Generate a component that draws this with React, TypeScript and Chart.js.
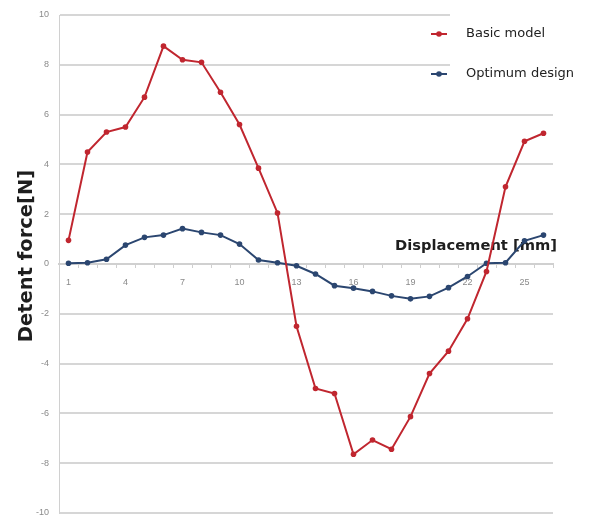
import React, { useEffect, useRef } from "react";
import { Chart, registerables } from "chart.js";

Chart.register(...registerables);

const categories = Array.from({ length: 26 }, (_, i) => String(i + 1));
const basicModel = [
  0.95, 4.5, 5.3, 5.5, 6.7, 8.75, 8.2, 8.1, 6.9, 5.6, 3.85, 2.05, -2.5, -5.0,
  -5.2, -7.64, -7.07, -7.44, -6.13, -4.4, -3.5, -2.2, -0.3, 3.1, 4.93, 5.25,
];
const optimumDesign = [
  0.03, 0.05, 0.19, 0.76, 1.07, 1.16, 1.42, 1.27, 1.16, 0.8, 0.16, 0.05, -0.07,
  -0.4, -0.87, -0.97, -1.1, -1.28, -1.4, -1.3, -0.95, -0.5, 0.03, 0.05, 0.93,
  1.16,
];
const seriesNames = ["Basic model", "Optimum design"];
const xTitle = "Displacement [mm]";
const yTitle = "Detent force[N]";

const RED = "#c0262f";
const BLUE = "#2b4670";

const overlayPlugin = {
  id: "overlay",
  beforeDatasetsDraw(chart: any) {
    const ctx = chart.ctx as CanvasRenderingContext2D;
    ctx.save();
    ctx.fillStyle = "#1e1e1e";
    ctx.font = "bold 14.7px 'DejaVu Sans', sans-serif";
    ctx.textAlign = "right";
    ctx.textBaseline = "middle";
    ctx.fillText(xTitle, 557, 246);
    ctx.restore();
  },
  afterDraw(chart: any) {
    const ctx = chart.ctx as CanvasRenderingContext2D;
    ctx.save();
    ctx.fillStyle = "#ffffff";
    ctx.fillRect(450, 5, 141, 88);
    const items = [
      { label: seriesNames[0], color: RED, y: 34 },
      { label: seriesNames[1], color: BLUE, y: 74 },
    ];
    items.forEach((it) => {
      ctx.strokeStyle = it.color;
      ctx.lineWidth = 2;
      ctx.beginPath();
      ctx.moveTo(431, it.y);
      ctx.lineTo(447, it.y);
      ctx.stroke();
      ctx.fillStyle = it.color;
      ctx.beginPath();
      ctx.arc(439, it.y, 2.8, 0, Math.PI * 2);
      ctx.fill();
      ctx.fillStyle = "#222";
      ctx.font = "13px 'DejaVu Sans', sans-serif";
      ctx.textAlign = "left";
      ctx.textBaseline = "middle";
      ctx.fillText(it.label, 466, it.y);
    });
    ctx.fillStyle = "#1e1e1e";
    ctx.translate(27, 256);
    ctx.rotate(-Math.PI / 2);
    ctx.textAlign = "center";
    ctx.textBaseline = "middle";
    ctx.font = "bold 19.5px 'DejaVu Sans', sans-serif";
    ctx.fillText(yTitle, 0, 0);
    ctx.restore();
  },
};

export default function App() {
  const ref = useRef<HTMLCanvasElement | null>(null);
  useEffect(() => {
    document.body.style.margin = "0";
    const canvas = ref.current!;
    const chart = new Chart(canvas, {
      type: "line",
      data: {
        labels: categories,
        datasets: [
          {
            label: seriesNames[0],
            data: basicModel,
            borderColor: RED,
            backgroundColor: RED,
            borderWidth: 2,
            pointRadius: 2.8,
            pointBackgroundColor: RED,
            pointBorderWidth: 0,
            tension: 0,
          },
          {
            label: seriesNames[1],
            data: optimumDesign,
            borderColor: BLUE,
            backgroundColor: BLUE,
            borderWidth: 2,
            pointRadius: 2.8,
            pointBackgroundColor: BLUE,
            pointBorderWidth: 0,
            tension: 0,
          },
        ],
      },
      options: {
        animation: false,
        responsive: false,
        maintainAspectRatio: false,
        layout: { padding: { left: 0, right: 38, top: 15, bottom: 6 } },
        plugins: {
          legend: { display: false },
          tooltip: { enabled: false },
        },
        scales: {
          x: {
            type: "category",
            position: { y: 0 } as any,
            offset: true,
            grid: {
              offset: true,
              drawOnChartArea: false,
              drawTicks: true,
              tickLength: 3,
              color: "#cfcfcf",
            },
            border: { display: true, color: "#d0d0d0", width: 2 },
            ticks: {
              autoSkip: false,
              maxRotation: 0,
              padding: 10,
              color: "#8a8a8a",
              font: { family: "'Liberation Sans', Arial, sans-serif", size: 9 },
              callback: (_v: any, i: number) => (i % 3 === 0 ? categories[i] : ""),
            },
          },
          y: {
            min: -10,
            max: 10,
            afterFit: (s: any) => {
              s.width = 59;
            },
            grid: {
              color: "#d6d6d6",
              lineWidth: 2,
              tickLength: 10,
              tickColor: "rgba(0,0,0,0)",
            },
            border: { display: true, color: "#d0d0d0", width: 1 },
            ticks: {
              stepSize: 2,
              padding: 0,
              color: "#8a8a8a",
              font: { family: "'Liberation Sans', Arial, sans-serif", size: 9 },
            },
          },
        },
      },
      plugins: [overlayPlugin],
    });
    return () => chart.destroy();
  }, []);
  return (
    <div style={{ width: 591, height: 519, background: "#fff" }}>
      <canvas ref={ref} width={591} height={519} style={{ display: "block" }} />
    </div>
  );
}
